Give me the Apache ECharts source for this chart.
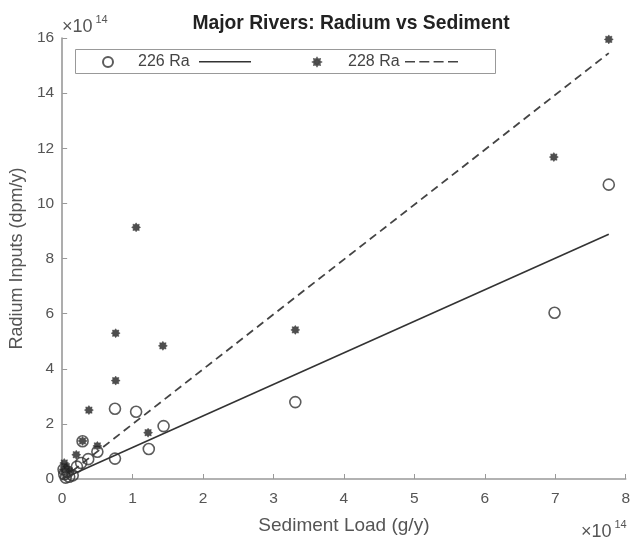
<!DOCTYPE html>
<html>
<head>
<meta charset="utf-8">
<script src="https://cdn.jsdelivr.net/npm/echarts@6/dist/echarts.min.js"></script>
<style>
  html, body { margin: 0; padding: 0; background: #fff; }
  #chart { width: 633px; height: 540px; }
</style>
</head>
<body>
<div id="chart"></div>
<script>
// values are in units of 1e14 (g/y on x, dpm/y on y)
const ra226Points = [
  [7.76, 10.68], [6.99, 6.03], [3.31, 2.79], [0.75, 2.55], [1.05, 2.44],
  [1.44, 1.92], [1.23, 1.09], [0.75, 0.74], [0.29, 1.37], [0.5, 0.99],
  [0.37, 0.72], [0.27, 0.58], [0.21, 0.45], [0.15, 0.13], [0.03, 0.17],
  [0.02, 0.35], [0.08, 0.25], [0.05, 0.05], [0.1, 0.08]
]
const ra228Points = [
  [7.76, 15.95], [6.98, 11.68], [1.05, 9.13], [0.76, 5.29], [3.31, 5.41],
  [1.43, 4.83], [0.76, 3.57], [0.38, 2.5], [1.22, 1.68], [0.29, 1.38],
  [0.5, 1.2], [0.2, 0.88], [0.03, 0.58], [0.02, 0.35], [0.06, 0.45], [0.1, 0.3]
]
// least-squares fit lines (endpoints)
const ra226Fit = [[0, 0], [7.76, 8.88]]
const ra228Fit = [[0, 0], [7.76, 15.45]]

const xTicks = [0, 1, 2, 3, 4, 5, 6, 7, 8]
const yTicks = [0, 2, 4, 6, 8, 10, 12, 14, 16]

// asterisk-like 8 point star
const STAR = 'path://M0,-10 L2.6,-6.3 L7.1,-7.1 L6.3,-2.6 L10,0 L6.3,2.6 L7.1,7.1 L2.6,6.3 L0,10 L-2.6,6.3 L-7.1,7.1 L-6.3,2.6 L-10,0 L-6.3,-2.6 L-7.1,-7.1 L-2.6,-6.3 Z'
const DASHES = 'path://M0,0h10v1.6h-10z M14.3,0h10v1.6h-10z M28.6,0h10v1.6h-10z M43,0h10v1.6h-10z'

const axisGray = '#999'
const textGray = '#555'
const font = 'Liberation Sans, Arial, sans-serif'

const chart = echarts.init(document.getElementById('chart'), null, { renderer: 'canvas' })

const legendBase = {
  orient: 'horizontal',
  top: 54,
  padding: 0,
  selectedMode: false,
  textStyle: { color: '#444', fontSize: 16, fontFamily: font },
}

function expLabel(x, y, big) {
  return [
    { type: 'text', left: x, top: y, style: { text: '×10', font: big + 'px ' + font, fill: textGray } },
    { type: 'text', left: x + 33.5, top: y - 4, style: { text: '14', font: '11px ' + font, fill: textGray } },
  ]
}

chart.setOption({
  backgroundColor: '#fff',
  animation: false,
  title: {
    text: 'Major Rivers: Radium vs Sediment',
    left: 346,
    top: 9,
    textAlign: 'center',
    textStyle: { fontSize: 19.3, fontWeight: 'bold', color: '#222', fontFamily: font },
  },
  legend: [
    { ...legendBase, data: ['226 Ra'], left: 102, itemWidth: 10, itemHeight: 10, textStyle: { ...legendBase.textStyle, padding: [0, 0, 0, 20] } },
    { ...legendBase, data: [{ name: '226 fit', icon: 'rect' }], left: 199, top: 61, itemWidth: 52, itemHeight: 1.6, formatter: () => '' },
    { ...legendBase, data: ['228 Ra'], left: 312, itemWidth: 8, itemHeight: 8, textStyle: { ...legendBase.textStyle, padding: [0, 0, 0, 22] } },
    { ...legendBase, data: [{ name: '228 fit', icon: DASHES }], left: 405, top: 61, itemWidth: 53, itemHeight: 1.6, formatter: () => '' },
  ],
  graphic: [
    {
      type: 'rect', z: 0,
      shape: { x: 75.5, y: 49.5, width: 420, height: 24 },
      style: { fill: '#fff', stroke: '#999', lineWidth: 1 },
    },
    ...expLabel(62, 18, 18),
    ...expLabel(581, 523, 18),
  ],
  grid: { left: 62, right: 2, top: 38, bottom: 57 },
  xAxis: {
    type: 'value',
    min: xTicks[0],
    max: xTicks[xTicks.length - 1],
    interval: 1,
    name: 'Sediment Load (g/y)',
    nameLocation: 'middle',
    nameGap: 37,
    nameTextStyle: { fontSize: 19, color: textGray, fontFamily: font },
    axisLine: { lineStyle: { color: axisGray, width: 1.6 } },
    axisTick: { inside: true, length: 5, lineStyle: { color: axisGray } },
    axisLabel: { color: textGray, fontSize: 15.5, margin: 12, fontFamily: font },
    splitLine: { show: false },
  },
  yAxis: {
    type: 'value',
    min: yTicks[0],
    max: yTicks[yTicks.length - 1],
    interval: 2,
    name: 'Radium Inputs (dpm/y)',
    nameLocation: 'middle',
    nameGap: 32,
    nameTextStyle: { fontSize: 18, color: textGray, fontFamily: font },
    axisLine: { show: true, lineStyle: { color: axisGray, width: 1.6 } },
    axisTick: { show: true, inside: true, length: 5, lineStyle: { color: axisGray } },
    axisLabel: { color: textGray, fontSize: 15.5, margin: 8, fontFamily: font },
    splitLine: { show: false },
  },
  series: [
    {
      name: '226 fit',
      type: 'line',
      data: ra226Fit,
      symbol: 'none',
      lineStyle: { color: '#333', width: 1.6 },
      itemStyle: { color: '#333' },
      z: 2,
    },
    {
      name: '228 fit',
      type: 'line',
      data: ra228Fit,
      symbol: 'none',
      lineStyle: { color: '#444', width: 1.8, type: [8, 5] },
      itemStyle: { color: '#444' },
      z: 2,
    },
    {
      name: '226 Ra',
      type: 'scatter',
      data: ra226Points,
      symbol: 'circle',
      symbolSize: 11,
      itemStyle: { color: 'rgba(255,255,255,0)', borderColor: '#333', borderWidth: 1.6 },
      z: 3,
    },
    {
      name: '228 Ra',
      type: 'scatter',
      data: ra228Points,
      symbol: STAR,
      symbolSize: 9,
      itemStyle: { color: '#222', borderColor: '#444', borderWidth: 0.6 },
      z: 4,
    },
  ],
})
</script>
</body>
</html>
